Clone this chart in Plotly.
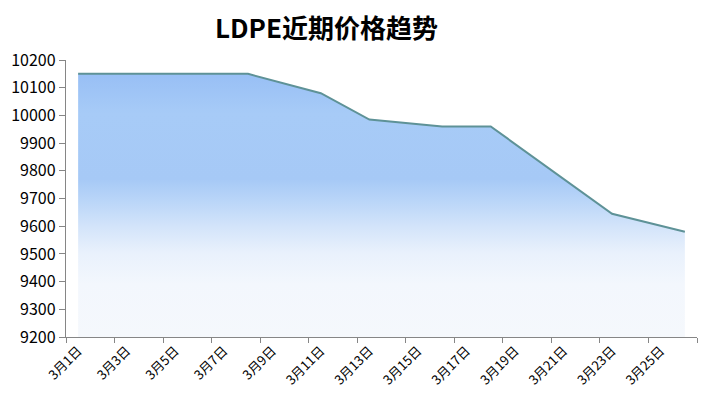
import plotly.graph_objects as go

# Data
days = [1, 3, 6, 8, 11, 13, 16, 18, 23, 26]
prices = [10150, 10150, 10150, 10150, 10080, 9985, 9960, 9960, 9645, 9580]
label_days = [1, 3, 5, 7, 9, 11, 13, 15, 17, 19, 21, 23, 25]
tick_labels = ["3月%d日" % d for d in label_days]
y_ticks = list(range(9200, 10201, 100))
y_labels = [str(v) for v in y_ticks]
title_text = "LDPE近期价格趋势"

FONT = "Noto Sans CJK SC, Noto Sans, sans-serif"
AXIS_COLOR = "#868686"

fig = go.Figure()
fig.add_trace(go.Scatter(
    x=[days[0], days[-1]], y=[9200, 9200], mode="lines",
    line=dict(width=0), showlegend=False, hoverinfo="skip"))
fig.add_trace(go.Scatter(
    x=days, y=prices, mode="lines",
    line=dict(color="#5e9297", width=2),
    fill="tonexty",
    fillgradient=dict(
        type="vertical", start=9200, stop=10150,
        colorscale=[
            [0.0, "#f5f8fc"],
            [0.2, "#f3f7fd"],
            [0.32, "#e9f1fc"],
            [0.42, "#d3e4fa"],
            [0.52, "#b9d5f8"],
            [0.6, "#a6c9f6"],
            [0.85, "#a7cbf7"],
            [1.0, "#98bff5"],
        ]),
    showlegend=False))

fig.update_layout(
    width=690, height=380,
    margin=dict(l=58, r=1, t=52, b=51, autoexpand=False),
    paper_bgcolor="white", plot_bgcolor="white",
    font=dict(family=FONT, color="#000000"),
    title=dict(text="<b>" + title_text + "</b>", x=0.4616, xanchor="center",
               y=0.944, yanchor="middle",
               font=dict(size=26, family=FONT, color="#000000")),
)
fig.update_xaxes(
    range=[0.5, 26.5], tickmode="array", tickvals=label_days, ticktext=tick_labels,
    tickangle=-45, ticks="", showgrid=False, zeroline=False, automargin=False,
    showline=True, linecolor=AXIS_COLOR, linewidth=1.3,
    tickfont=dict(size=13, family=FONT, color="#000000"),
    minor=dict(tickvals=[0.5 + 2 * i for i in range(14)], ticks="outside",
               ticklen=5, tickcolor=AXIS_COLOR, tickwidth=1, showgrid=False),
)
fig.update_yaxes(
    range=[9200, 10200], tickmode="array", tickvals=y_ticks, ticktext=y_labels,
    ticks="outside", ticklen=6, tickcolor=AXIS_COLOR, automargin=False,
    showgrid=False, zeroline=False,
    showline=True, linecolor=AXIS_COLOR, linewidth=1.3,
    tickfont=dict(size=16, family=FONT, color="#000000"),
)

fig.write_html("out.html")
